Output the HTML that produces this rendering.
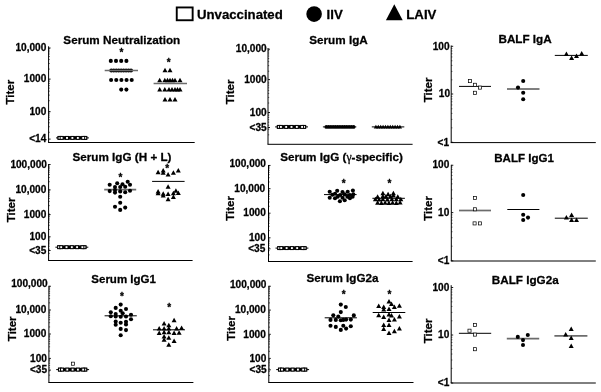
<!DOCTYPE html>
<html><head><meta charset="utf-8"><title>Figure</title>
<style>html,body{margin:0;padding:0;background:#fff}svg{display:block}</style>
</head><body>
<svg width="601" height="392" viewBox="0 0 601 392" font-family='"Liberation Sans", Arial, Helvetica, sans-serif' font-weight="bold" fill="#000"><style>text{stroke:#000;stroke-width:0.28px;stroke-linejoin:round}</style>
<rect width="601" height="392" fill="#fff"/>
<g>
<rect x="176.75" y="7.45" width="15.9" height="12.8" fill="#fff" stroke="#000" stroke-width="1.9"/>
<text x="197.00" y="18.60" font-size="13.2" text-anchor="start" >Unvaccinated</text>
<circle cx="314.1" cy="14.1" r="7.8" fill="#000"/>
<text x="326.60" y="18.90" font-size="13.2" text-anchor="start" >IIV</text>
<path d="M394.3 4.2L402.7 20.2L385.9 20.2Z" fill="#000"/>
<text x="406.30" y="18.90" font-size="13.2" text-anchor="start" >LAIV</text>
<line x1="48.60" y1="46.30" x2="48.60" y2="142.50" stroke="#000" stroke-width="1"/>
<line x1="48.10" y1="142.50" x2="194.70" y2="142.50" stroke="#000" stroke-width="1"/>
<line x1="48.60" y1="48.00" x2="50.60" y2="48.00" stroke="#000" stroke-width="0.9"/>
<text x="46.30" y="51.00" font-size="10.1" text-anchor="end" >10,000</text>
<line x1="48.60" y1="79.10" x2="50.60" y2="79.10" stroke="#000" stroke-width="0.9"/>
<text x="46.30" y="82.00" font-size="10.1" text-anchor="end" >1000</text>
<line x1="48.60" y1="111.70" x2="50.60" y2="111.70" stroke="#000" stroke-width="0.9"/>
<text x="46.30" y="115.00" font-size="10.1" text-anchor="end" >100</text>
<line x1="48.60" y1="139.10" x2="50.60" y2="139.10" stroke="#000" stroke-width="0.9"/>
<text x="46.30" y="142.00" font-size="10.1" text-anchor="end" >&lt;14</text>
<text x="121.80" y="43.60" font-size="11.7" text-anchor="middle" >Serum Neutralization</text>
<text transform="translate(13.80,92.20) rotate(-90)" font-size="11.5" text-anchor="middle">Titer</text>
<line x1="48.60" y1="69.09" x2="49.80" y2="69.09" stroke="#000" stroke-width="0.6"/>
<line x1="48.60" y1="63.52" x2="49.80" y2="63.52" stroke="#000" stroke-width="0.6"/>
<line x1="48.60" y1="59.57" x2="49.80" y2="59.57" stroke="#000" stroke-width="0.6"/>
<line x1="48.60" y1="56.51" x2="49.80" y2="56.51" stroke="#000" stroke-width="0.6"/>
<line x1="48.60" y1="54.01" x2="49.80" y2="54.01" stroke="#000" stroke-width="0.6"/>
<line x1="48.60" y1="51.89" x2="49.80" y2="51.89" stroke="#000" stroke-width="0.6"/>
<line x1="48.60" y1="50.06" x2="49.80" y2="50.06" stroke="#000" stroke-width="0.6"/>
<line x1="48.60" y1="48.45" x2="49.80" y2="48.45" stroke="#000" stroke-width="0.6"/>
<line x1="48.60" y1="100.69" x2="49.80" y2="100.69" stroke="#000" stroke-width="0.6"/>
<line x1="48.60" y1="95.12" x2="49.80" y2="95.12" stroke="#000" stroke-width="0.6"/>
<line x1="48.60" y1="91.17" x2="49.80" y2="91.17" stroke="#000" stroke-width="0.6"/>
<line x1="48.60" y1="88.11" x2="49.80" y2="88.11" stroke="#000" stroke-width="0.6"/>
<line x1="48.60" y1="85.61" x2="49.80" y2="85.61" stroke="#000" stroke-width="0.6"/>
<line x1="48.60" y1="83.49" x2="49.80" y2="83.49" stroke="#000" stroke-width="0.6"/>
<line x1="48.60" y1="81.66" x2="49.80" y2="81.66" stroke="#000" stroke-width="0.6"/>
<line x1="48.60" y1="80.05" x2="49.80" y2="80.05" stroke="#000" stroke-width="0.6"/>
<line x1="48.60" y1="132.29" x2="49.80" y2="132.29" stroke="#000" stroke-width="0.6"/>
<line x1="48.60" y1="126.72" x2="49.80" y2="126.72" stroke="#000" stroke-width="0.6"/>
<line x1="48.60" y1="122.77" x2="49.80" y2="122.77" stroke="#000" stroke-width="0.6"/>
<line x1="48.60" y1="119.71" x2="49.80" y2="119.71" stroke="#000" stroke-width="0.6"/>
<line x1="48.60" y1="117.21" x2="49.80" y2="117.21" stroke="#000" stroke-width="0.6"/>
<line x1="48.60" y1="115.09" x2="49.80" y2="115.09" stroke="#000" stroke-width="0.6"/>
<line x1="48.60" y1="113.26" x2="49.80" y2="113.26" stroke="#000" stroke-width="0.6"/>
<line x1="48.60" y1="111.65" x2="49.80" y2="111.65" stroke="#000" stroke-width="0.6"/>
<line x1="56.00" y1="137.90" x2="88.90" y2="137.90" stroke="#000" stroke-width="1"/>
<rect x="57.55" y="136.10" width="29.70" height="3.6" fill="#000"/>
<rect x="58.08" y="136.43" width="2.95" height="2.95" fill="#fff" stroke="#000" stroke-width="1.0"/>
<rect x="83.78" y="136.43" width="2.95" height="2.95" fill="#fff" stroke="#000" stroke-width="1.0"/>
<rect x="60.13" y="136.43" width="2.95" height="2.95" fill="#fff" stroke="#000" stroke-width="1.0"/>
<rect x="65.53" y="136.43" width="2.95" height="2.95" fill="#fff" stroke="#000" stroke-width="1.0"/>
<rect x="70.93" y="136.43" width="2.95" height="2.95" fill="#fff" stroke="#000" stroke-width="1.0"/>
<rect x="76.33" y="136.43" width="2.95" height="2.95" fill="#fff" stroke="#000" stroke-width="1.0"/>
<rect x="81.73" y="136.43" width="2.95" height="2.95" fill="#fff" stroke="#000" stroke-width="1.0"/>
<circle cx="110.80" cy="60.90" r="2.05" fill="#000"/>
<circle cx="116.00" cy="60.90" r="2.05" fill="#000"/>
<circle cx="121.20" cy="60.90" r="2.05" fill="#000"/>
<circle cx="126.40" cy="60.90" r="2.05" fill="#000"/>
<circle cx="111.30" cy="70.50" r="2.05" fill="#000"/>
<circle cx="113.76" cy="70.50" r="2.05" fill="#000"/>
<circle cx="116.22" cy="70.50" r="2.05" fill="#000"/>
<circle cx="118.69" cy="70.50" r="2.05" fill="#000"/>
<circle cx="121.15" cy="70.50" r="2.05" fill="#000"/>
<circle cx="123.61" cy="70.50" r="2.05" fill="#000"/>
<circle cx="126.08" cy="70.50" r="2.05" fill="#000"/>
<circle cx="128.54" cy="70.50" r="2.05" fill="#000"/>
<circle cx="131.00" cy="70.50" r="2.05" fill="#000"/>
<line x1="104.70" y1="70.50" x2="138.00" y2="70.50" stroke="#6c6c6c" stroke-width="1.7"/>
<circle cx="111.10" cy="80.00" r="2.05" fill="#000"/>
<circle cx="116.25" cy="80.00" r="2.05" fill="#000"/>
<circle cx="121.40" cy="80.00" r="2.05" fill="#000"/>
<circle cx="126.55" cy="80.00" r="2.05" fill="#000"/>
<circle cx="131.70" cy="80.00" r="2.05" fill="#000"/>
<circle cx="121.20" cy="89.60" r="2.05" fill="#000"/>
<circle cx="126.40" cy="89.60" r="2.05" fill="#000"/>
<text x="121.50" y="56.40" font-size="10" text-anchor="middle" >*</text>
<path d="M165.00 67.70L167.50 72.20L162.50 72.20Z" fill="#000"/>
<path d="M170.00 67.70L172.50 72.20L167.50 72.20Z" fill="#000"/>
<path d="M159.70 77.70L162.20 82.20L157.20 82.20Z" fill="#000"/>
<path d="M164.80 77.70L167.30 82.20L162.30 82.20Z" fill="#000"/>
<path d="M167.50 77.70L170.00 82.20L165.00 82.20Z" fill="#000"/>
<path d="M170.00 77.70L172.50 82.20L167.50 82.20Z" fill="#000"/>
<path d="M172.50 77.70L175.00 82.20L170.00 82.20Z" fill="#000"/>
<path d="M175.00 77.70L177.50 82.20L172.50 82.20Z" fill="#000"/>
<path d="M180.00 77.70L182.50 82.20L177.50 82.20Z" fill="#000"/>
<line x1="153.60" y1="83.50" x2="187.00" y2="83.50" stroke="#6c6c6c" stroke-width="1.7"/>
<path d="M159.70 87.10L162.20 91.60L157.20 91.60Z" fill="#000"/>
<path d="M164.80 87.10L167.30 91.60L162.30 91.60Z" fill="#000"/>
<path d="M169.00 87.10L171.50 91.60L166.50 91.60Z" fill="#000"/>
<path d="M172.00 87.10L174.50 91.60L169.50 91.60Z" fill="#000"/>
<path d="M175.00 87.10L177.50 91.60L172.50 91.60Z" fill="#000"/>
<path d="M177.50 87.10L180.00 91.60L175.00 91.60Z" fill="#000"/>
<path d="M180.00 87.10L182.50 91.60L177.50 91.60Z" fill="#000"/>
<path d="M165.00 96.90L167.50 101.40L162.50 101.40Z" fill="#000"/>
<path d="M170.00 96.90L172.50 101.40L167.50 101.40Z" fill="#000"/>
<path d="M175.00 96.90L177.50 101.40L172.50 101.40Z" fill="#000"/>
<text x="168.60" y="65.60" font-size="10" text-anchor="middle" >*</text>
<line x1="268.00" y1="48.00" x2="268.00" y2="144.30" stroke="#000" stroke-width="1"/>
<line x1="267.50" y1="144.30" x2="412.60" y2="144.30" stroke="#000" stroke-width="1"/>
<line x1="268.00" y1="49.20" x2="270.00" y2="49.20" stroke="#000" stroke-width="0.9"/>
<text x="266.70" y="52.00" font-size="10.1" text-anchor="end" >10,000</text>
<line x1="268.00" y1="79.60" x2="270.00" y2="79.60" stroke="#000" stroke-width="0.9"/>
<text x="266.70" y="83.00" font-size="10.1" text-anchor="end" >1000</text>
<line x1="268.00" y1="112.50" x2="270.00" y2="112.50" stroke="#000" stroke-width="0.9"/>
<text x="266.70" y="116.00" font-size="10.1" text-anchor="end" >100</text>
<line x1="268.00" y1="127.50" x2="270.00" y2="127.50" stroke="#000" stroke-width="0.9"/>
<text x="266.70" y="131.00" font-size="10.1" text-anchor="end" >&lt;35</text>
<text x="338.50" y="43.70" font-size="11.7" text-anchor="middle" >Serum IgA</text>
<text transform="translate(233.80,92.00) rotate(-90)" font-size="11.5" text-anchor="middle">Titer</text>
<line x1="268.00" y1="71.23" x2="269.20" y2="71.23" stroke="#000" stroke-width="0.6"/>
<line x1="268.00" y1="65.63" x2="269.20" y2="65.63" stroke="#000" stroke-width="0.6"/>
<line x1="268.00" y1="61.65" x2="269.20" y2="61.65" stroke="#000" stroke-width="0.6"/>
<line x1="268.00" y1="58.57" x2="269.20" y2="58.57" stroke="#000" stroke-width="0.6"/>
<line x1="268.00" y1="56.05" x2="269.20" y2="56.05" stroke="#000" stroke-width="0.6"/>
<line x1="268.00" y1="53.93" x2="269.20" y2="53.93" stroke="#000" stroke-width="0.6"/>
<line x1="268.00" y1="52.08" x2="269.20" y2="52.08" stroke="#000" stroke-width="0.6"/>
<line x1="268.00" y1="50.46" x2="269.20" y2="50.46" stroke="#000" stroke-width="0.6"/>
<line x1="268.00" y1="103.03" x2="269.20" y2="103.03" stroke="#000" stroke-width="0.6"/>
<line x1="268.00" y1="97.43" x2="269.20" y2="97.43" stroke="#000" stroke-width="0.6"/>
<line x1="268.00" y1="93.45" x2="269.20" y2="93.45" stroke="#000" stroke-width="0.6"/>
<line x1="268.00" y1="90.37" x2="269.20" y2="90.37" stroke="#000" stroke-width="0.6"/>
<line x1="268.00" y1="87.85" x2="269.20" y2="87.85" stroke="#000" stroke-width="0.6"/>
<line x1="268.00" y1="85.73" x2="269.20" y2="85.73" stroke="#000" stroke-width="0.6"/>
<line x1="268.00" y1="83.88" x2="269.20" y2="83.88" stroke="#000" stroke-width="0.6"/>
<line x1="268.00" y1="82.26" x2="269.20" y2="82.26" stroke="#000" stroke-width="0.6"/>
<line x1="268.00" y1="134.83" x2="269.20" y2="134.83" stroke="#000" stroke-width="0.6"/>
<line x1="268.00" y1="129.23" x2="269.20" y2="129.23" stroke="#000" stroke-width="0.6"/>
<line x1="268.00" y1="125.25" x2="269.20" y2="125.25" stroke="#000" stroke-width="0.6"/>
<line x1="268.00" y1="122.17" x2="269.20" y2="122.17" stroke="#000" stroke-width="0.6"/>
<line x1="268.00" y1="119.65" x2="269.20" y2="119.65" stroke="#000" stroke-width="0.6"/>
<line x1="268.00" y1="117.53" x2="269.20" y2="117.53" stroke="#000" stroke-width="0.6"/>
<line x1="268.00" y1="115.68" x2="269.20" y2="115.68" stroke="#000" stroke-width="0.6"/>
<line x1="268.00" y1="114.06" x2="269.20" y2="114.06" stroke="#000" stroke-width="0.6"/>
<line x1="275.10" y1="126.90" x2="308.00" y2="126.90" stroke="#000" stroke-width="1"/>
<rect x="276.85" y="125.10" width="29.30" height="3.6" fill="#000"/>
<rect x="277.38" y="125.43" width="2.95" height="2.95" fill="#fff" stroke="#000" stroke-width="1.0"/>
<rect x="302.67" y="125.43" width="2.95" height="2.95" fill="#fff" stroke="#000" stroke-width="1.0"/>
<rect x="279.42" y="125.43" width="2.95" height="2.95" fill="#fff" stroke="#000" stroke-width="1.0"/>
<rect x="284.72" y="125.43" width="2.95" height="2.95" fill="#fff" stroke="#000" stroke-width="1.0"/>
<rect x="290.02" y="125.43" width="2.95" height="2.95" fill="#fff" stroke="#000" stroke-width="1.0"/>
<rect x="295.32" y="125.43" width="2.95" height="2.95" fill="#fff" stroke="#000" stroke-width="1.0"/>
<rect x="300.62" y="125.43" width="2.95" height="2.95" fill="#fff" stroke="#000" stroke-width="1.0"/>
<line x1="322.90" y1="126.90" x2="356.30" y2="126.90" stroke="#000" stroke-width="1"/>
<circle cx="326.30" cy="126.90" r="1.85" fill="#000"/>
<circle cx="328.57" cy="126.90" r="1.85" fill="#000"/>
<circle cx="330.85" cy="126.90" r="1.85" fill="#000"/>
<circle cx="333.12" cy="126.90" r="1.85" fill="#000"/>
<circle cx="335.40" cy="126.90" r="1.85" fill="#000"/>
<circle cx="337.68" cy="126.90" r="1.85" fill="#000"/>
<circle cx="339.95" cy="126.90" r="1.85" fill="#000"/>
<circle cx="342.23" cy="126.90" r="1.85" fill="#000"/>
<circle cx="344.50" cy="126.90" r="1.85" fill="#000"/>
<circle cx="346.78" cy="126.90" r="1.85" fill="#000"/>
<circle cx="349.05" cy="126.90" r="1.85" fill="#000"/>
<circle cx="351.33" cy="126.90" r="1.85" fill="#000"/>
<circle cx="353.60" cy="126.90" r="1.85" fill="#000"/>
<line x1="371.80" y1="126.90" x2="404.30" y2="126.90" stroke="#000" stroke-width="1"/>
<path d="M375.90 124.75L378.05 128.62L373.75 128.62Z" fill="#000"/>
<path d="M378.30 124.75L380.45 128.62L376.15 128.62Z" fill="#000"/>
<path d="M380.70 124.75L382.85 128.62L378.55 128.62Z" fill="#000"/>
<path d="M383.10 124.75L385.25 128.62L380.95 128.62Z" fill="#000"/>
<path d="M385.50 124.75L387.65 128.62L383.35 128.62Z" fill="#000"/>
<path d="M387.90 124.75L390.05 128.62L385.75 128.62Z" fill="#000"/>
<path d="M390.30 124.75L392.45 128.62L388.15 128.62Z" fill="#000"/>
<path d="M392.70 124.75L394.85 128.62L390.55 128.62Z" fill="#000"/>
<path d="M395.10 124.75L397.25 128.62L392.95 128.62Z" fill="#000"/>
<path d="M397.50 124.75L399.65 128.62L395.35 128.62Z" fill="#000"/>
<path d="M399.90 124.75L402.05 128.62L397.75 128.62Z" fill="#000"/>
<line x1="451.20" y1="45.50" x2="451.20" y2="142.60" stroke="#000" stroke-width="1"/>
<line x1="450.70" y1="142.60" x2="595.80" y2="142.60" stroke="#000" stroke-width="1"/>
<line x1="451.20" y1="46.30" x2="453.20" y2="46.30" stroke="#000" stroke-width="0.9"/>
<text x="449.60" y="50.00" font-size="10.1" text-anchor="end" >100</text>
<line x1="451.20" y1="94.00" x2="453.20" y2="94.00" stroke="#000" stroke-width="0.9"/>
<text x="450.10" y="97.00" font-size="10.1" text-anchor="end" >10</text>
<line x1="451.20" y1="142.30" x2="453.20" y2="142.30" stroke="#000" stroke-width="0.9"/>
<text x="449.00" y="146.00" font-size="10.1" text-anchor="end" >&lt;1</text>
<text x="525.10" y="42.60" font-size="11.7" text-anchor="middle" >BALF IgA</text>
<text transform="translate(432.00,90.00) rotate(-90)" font-size="11.5" text-anchor="middle">Titer</text>
<line x1="451.20" y1="79.85" x2="452.40" y2="79.85" stroke="#000" stroke-width="0.6"/>
<line x1="451.20" y1="71.40" x2="452.40" y2="71.40" stroke="#000" stroke-width="0.6"/>
<line x1="451.20" y1="65.40" x2="452.40" y2="65.40" stroke="#000" stroke-width="0.6"/>
<line x1="451.20" y1="60.75" x2="452.40" y2="60.75" stroke="#000" stroke-width="0.6"/>
<line x1="451.20" y1="56.95" x2="452.40" y2="56.95" stroke="#000" stroke-width="0.6"/>
<line x1="451.20" y1="53.74" x2="452.40" y2="53.74" stroke="#000" stroke-width="0.6"/>
<line x1="451.20" y1="50.95" x2="452.40" y2="50.95" stroke="#000" stroke-width="0.6"/>
<line x1="451.20" y1="48.50" x2="452.40" y2="48.50" stroke="#000" stroke-width="0.6"/>
<line x1="451.20" y1="127.85" x2="452.40" y2="127.85" stroke="#000" stroke-width="0.6"/>
<line x1="451.20" y1="119.40" x2="452.40" y2="119.40" stroke="#000" stroke-width="0.6"/>
<line x1="451.20" y1="113.40" x2="452.40" y2="113.40" stroke="#000" stroke-width="0.6"/>
<line x1="451.20" y1="108.75" x2="452.40" y2="108.75" stroke="#000" stroke-width="0.6"/>
<line x1="451.20" y1="104.95" x2="452.40" y2="104.95" stroke="#000" stroke-width="0.6"/>
<line x1="451.20" y1="101.74" x2="452.40" y2="101.74" stroke="#000" stroke-width="0.6"/>
<line x1="451.20" y1="98.95" x2="452.40" y2="98.95" stroke="#000" stroke-width="0.6"/>
<line x1="451.20" y1="96.50" x2="452.40" y2="96.50" stroke="#000" stroke-width="0.6"/>
<line x1="459.00" y1="86.40" x2="491.00" y2="86.40" stroke="#000" stroke-width="1"/>
<rect x="468.35" y="79.55" width="3.1" height="3.1" fill="#fff" stroke="#000" stroke-width="0.72"/>
<rect x="473.45" y="83.25" width="3.1" height="3.1" fill="#fff" stroke="#000" stroke-width="0.72"/>
<rect x="478.45" y="86.05" width="3.1" height="3.1" fill="#fff" stroke="#000" stroke-width="0.72"/>
<rect x="473.45" y="91.25" width="3.1" height="3.1" fill="#fff" stroke="#000" stroke-width="0.72"/>
<line x1="507.00" y1="89.00" x2="539.50" y2="89.00" stroke="#000" stroke-width="1"/>
<circle cx="523.20" cy="81.00" r="2.05" fill="#000"/>
<circle cx="518.00" cy="87.60" r="2.05" fill="#000"/>
<circle cx="523.20" cy="92.80" r="2.05" fill="#000"/>
<circle cx="523.20" cy="99.20" r="2.05" fill="#000"/>
<line x1="554.80" y1="55.40" x2="587.80" y2="55.40" stroke="#000" stroke-width="1"/>
<path d="M566.40 51.40L568.90 55.90L563.90 55.90Z" fill="#000"/>
<path d="M571.60 55.40L574.10 59.90L569.10 59.90Z" fill="#000"/>
<path d="M576.50 53.50L579.00 58.00L574.00 58.00Z" fill="#000"/>
<path d="M581.70 51.10L584.20 55.60L579.20 55.60Z" fill="#000"/>
<line x1="48.60" y1="164.00" x2="48.60" y2="260.50" stroke="#000" stroke-width="1"/>
<line x1="48.10" y1="260.50" x2="192.60" y2="260.50" stroke="#000" stroke-width="1"/>
<line x1="48.60" y1="164.50" x2="50.60" y2="164.50" stroke="#000" stroke-width="0.9"/>
<text x="46.90" y="168.00" font-size="10.1" text-anchor="end" >100,000</text>
<line x1="48.60" y1="189.90" x2="50.60" y2="189.90" stroke="#000" stroke-width="0.9"/>
<text x="46.30" y="193.00" font-size="10.1" text-anchor="end" >10,000</text>
<line x1="48.60" y1="214.60" x2="50.60" y2="214.60" stroke="#000" stroke-width="0.9"/>
<text x="46.30" y="218.00" font-size="10.1" text-anchor="end" >1000</text>
<line x1="48.60" y1="236.80" x2="50.60" y2="236.80" stroke="#000" stroke-width="0.9"/>
<text x="46.30" y="240.00" font-size="10.1" text-anchor="end" >100</text>
<line x1="48.60" y1="250.50" x2="50.60" y2="250.50" stroke="#000" stroke-width="0.9"/>
<text x="46.30" y="254.00" font-size="10.1" text-anchor="end" >&lt;35</text>
<text x="122.00" y="160.60" font-size="11.7" text-anchor="middle" >Serum IgG (H + L)</text>
<text transform="translate(15.00,210.00) rotate(-90)" font-size="11.5" text-anchor="middle">Titer</text>
<line x1="48.60" y1="181.71" x2="49.80" y2="181.71" stroke="#000" stroke-width="0.6"/>
<line x1="48.60" y1="177.50" x2="49.80" y2="177.50" stroke="#000" stroke-width="0.6"/>
<line x1="48.60" y1="174.51" x2="49.80" y2="174.51" stroke="#000" stroke-width="0.6"/>
<line x1="48.60" y1="172.19" x2="49.80" y2="172.19" stroke="#000" stroke-width="0.6"/>
<line x1="48.60" y1="170.30" x2="49.80" y2="170.30" stroke="#000" stroke-width="0.6"/>
<line x1="48.60" y1="168.70" x2="49.80" y2="168.70" stroke="#000" stroke-width="0.6"/>
<line x1="48.60" y1="167.32" x2="49.80" y2="167.32" stroke="#000" stroke-width="0.6"/>
<line x1="48.60" y1="166.09" x2="49.80" y2="166.09" stroke="#000" stroke-width="0.6"/>
<line x1="48.60" y1="205.61" x2="49.80" y2="205.61" stroke="#000" stroke-width="0.6"/>
<line x1="48.60" y1="201.40" x2="49.80" y2="201.40" stroke="#000" stroke-width="0.6"/>
<line x1="48.60" y1="198.41" x2="49.80" y2="198.41" stroke="#000" stroke-width="0.6"/>
<line x1="48.60" y1="196.09" x2="49.80" y2="196.09" stroke="#000" stroke-width="0.6"/>
<line x1="48.60" y1="194.20" x2="49.80" y2="194.20" stroke="#000" stroke-width="0.6"/>
<line x1="48.60" y1="192.60" x2="49.80" y2="192.60" stroke="#000" stroke-width="0.6"/>
<line x1="48.60" y1="191.22" x2="49.80" y2="191.22" stroke="#000" stroke-width="0.6"/>
<line x1="48.60" y1="189.99" x2="49.80" y2="189.99" stroke="#000" stroke-width="0.6"/>
<line x1="48.60" y1="229.51" x2="49.80" y2="229.51" stroke="#000" stroke-width="0.6"/>
<line x1="48.60" y1="225.30" x2="49.80" y2="225.30" stroke="#000" stroke-width="0.6"/>
<line x1="48.60" y1="222.31" x2="49.80" y2="222.31" stroke="#000" stroke-width="0.6"/>
<line x1="48.60" y1="219.99" x2="49.80" y2="219.99" stroke="#000" stroke-width="0.6"/>
<line x1="48.60" y1="218.10" x2="49.80" y2="218.10" stroke="#000" stroke-width="0.6"/>
<line x1="48.60" y1="216.50" x2="49.80" y2="216.50" stroke="#000" stroke-width="0.6"/>
<line x1="48.60" y1="215.12" x2="49.80" y2="215.12" stroke="#000" stroke-width="0.6"/>
<line x1="48.60" y1="213.89" x2="49.80" y2="213.89" stroke="#000" stroke-width="0.6"/>
<line x1="48.60" y1="253.41" x2="49.80" y2="253.41" stroke="#000" stroke-width="0.6"/>
<line x1="48.60" y1="249.20" x2="49.80" y2="249.20" stroke="#000" stroke-width="0.6"/>
<line x1="48.60" y1="246.21" x2="49.80" y2="246.21" stroke="#000" stroke-width="0.6"/>
<line x1="48.60" y1="243.89" x2="49.80" y2="243.89" stroke="#000" stroke-width="0.6"/>
<line x1="48.60" y1="242.00" x2="49.80" y2="242.00" stroke="#000" stroke-width="0.6"/>
<line x1="48.60" y1="240.40" x2="49.80" y2="240.40" stroke="#000" stroke-width="0.6"/>
<line x1="48.60" y1="239.02" x2="49.80" y2="239.02" stroke="#000" stroke-width="0.6"/>
<line x1="48.60" y1="237.79" x2="49.80" y2="237.79" stroke="#000" stroke-width="0.6"/>
<line x1="55.40" y1="247.20" x2="88.30" y2="247.20" stroke="#000" stroke-width="1"/>
<rect x="57.15" y="245.40" width="29.30" height="3.6" fill="#000"/>
<rect x="57.67" y="245.72" width="2.95" height="2.95" fill="#fff" stroke="#000" stroke-width="1.0"/>
<rect x="82.97" y="245.72" width="2.95" height="2.95" fill="#fff" stroke="#000" stroke-width="1.0"/>
<rect x="59.72" y="245.72" width="2.95" height="2.95" fill="#fff" stroke="#000" stroke-width="1.0"/>
<rect x="65.03" y="245.72" width="2.95" height="2.95" fill="#fff" stroke="#000" stroke-width="1.0"/>
<rect x="70.33" y="245.72" width="2.95" height="2.95" fill="#fff" stroke="#000" stroke-width="1.0"/>
<rect x="75.62" y="245.72" width="2.95" height="2.95" fill="#fff" stroke="#000" stroke-width="1.0"/>
<rect x="80.92" y="245.72" width="2.95" height="2.95" fill="#fff" stroke="#000" stroke-width="1.0"/>
<line x1="104.20" y1="189.60" x2="136.20" y2="189.60" stroke="#6c6c6c" stroke-width="1.7"/>
<circle cx="109.70" cy="184.70" r="2.05" fill="#000"/>
<circle cx="117.20" cy="183.20" r="2.05" fill="#000"/>
<circle cx="122.50" cy="184.30" r="2.05" fill="#000"/>
<circle cx="127.70" cy="181.70" r="2.05" fill="#000"/>
<circle cx="130.00" cy="184.70" r="2.05" fill="#000"/>
<circle cx="115.00" cy="187.00" r="2.05" fill="#000"/>
<circle cx="120.20" cy="187.00" r="2.05" fill="#000"/>
<circle cx="125.20" cy="186.70" r="2.05" fill="#000"/>
<circle cx="109.70" cy="191.10" r="2.05" fill="#000"/>
<circle cx="115.00" cy="190.00" r="2.05" fill="#000"/>
<circle cx="115.00" cy="192.60" r="2.05" fill="#000"/>
<circle cx="120.20" cy="191.40" r="2.05" fill="#000"/>
<circle cx="125.20" cy="192.20" r="2.05" fill="#000"/>
<circle cx="130.00" cy="190.70" r="2.05" fill="#000"/>
<circle cx="120.20" cy="196.70" r="2.05" fill="#000"/>
<circle cx="120.20" cy="202.70" r="2.05" fill="#000"/>
<circle cx="115.00" cy="206.70" r="2.05" fill="#000"/>
<circle cx="125.20" cy="207.60" r="2.05" fill="#000"/>
<circle cx="120.20" cy="209.90" r="2.05" fill="#000"/>
<text x="120.40" y="181.10" font-size="10" text-anchor="middle" >*</text>
<line x1="152.10" y1="181.40" x2="184.60" y2="181.40" stroke="#000" stroke-width="1"/>
<path d="M158.10 169.80L160.60 174.30L155.60 174.30Z" fill="#000"/>
<path d="M163.20 168.00L165.70 172.50L160.70 172.50Z" fill="#000"/>
<path d="M163.20 170.20L165.70 174.70L160.70 174.70Z" fill="#000"/>
<path d="M168.10 172.00L170.60 176.50L165.60 176.50Z" fill="#000"/>
<path d="M173.40 170.20L175.90 174.70L170.90 174.70Z" fill="#000"/>
<path d="M178.30 168.00L180.80 172.50L175.80 172.50Z" fill="#000"/>
<path d="M168.10 184.20L170.60 188.70L165.60 188.70Z" fill="#000"/>
<path d="M158.10 188.90L160.60 193.40L155.60 193.40Z" fill="#000"/>
<path d="M158.10 190.70L160.60 195.20L155.60 195.20Z" fill="#000"/>
<path d="M163.20 191.20L165.70 195.70L160.70 195.70Z" fill="#000"/>
<path d="M163.20 193.10L165.70 197.60L160.70 197.60Z" fill="#000"/>
<path d="M168.10 191.60L170.60 196.10L165.60 196.10Z" fill="#000"/>
<path d="M173.40 190.70L175.90 195.20L170.90 195.20Z" fill="#000"/>
<path d="M175.90 188.20L178.40 192.70L173.40 192.70Z" fill="#000"/>
<path d="M178.30 190.50L180.80 195.00L175.80 195.00Z" fill="#000"/>
<path d="M168.10 196.70L170.60 201.20L165.60 201.20Z" fill="#000"/>
<path d="M173.40 194.60L175.90 199.10L170.90 199.10Z" fill="#000"/>
<text x="167.30" y="171.60" font-size="10" text-anchor="middle" >*</text>
<line x1="268.50" y1="165.00" x2="268.50" y2="261.50" stroke="#000" stroke-width="1"/>
<line x1="268.00" y1="261.50" x2="412.60" y2="261.50" stroke="#000" stroke-width="1"/>
<line x1="268.50" y1="165.45" x2="270.50" y2="165.45" stroke="#000" stroke-width="0.9"/>
<text x="266.00" y="167.00" font-size="10.1" text-anchor="end" >100,000</text>
<line x1="268.50" y1="188.70" x2="270.50" y2="188.70" stroke="#000" stroke-width="0.9"/>
<text x="265.20" y="192.00" font-size="10.1" text-anchor="end" >10,000</text>
<line x1="268.50" y1="213.20" x2="270.50" y2="213.20" stroke="#000" stroke-width="0.9"/>
<text x="265.80" y="216.00" font-size="10.1" text-anchor="end" >1000</text>
<line x1="268.50" y1="237.80" x2="270.50" y2="237.80" stroke="#000" stroke-width="0.9"/>
<text x="265.80" y="241.00" font-size="10.1" text-anchor="end" >100</text>
<line x1="268.50" y1="248.80" x2="270.50" y2="248.80" stroke="#000" stroke-width="0.9"/>
<text x="265.30" y="252.00" font-size="10.1" text-anchor="end" >&lt;35</text>
<text x="341.50" y="161.00" font-size="11.7" text-anchor="middle" >Serum IgG (<tspan font-family='Liberation Serif, serif' font-weight='normal'>γ</tspan>-specific)</text>
<text transform="translate(234.30,208.50) rotate(-90)" font-size="11.5" text-anchor="middle">Titer</text>
<line x1="268.50" y1="181.98" x2="269.70" y2="181.98" stroke="#000" stroke-width="0.6"/>
<line x1="268.50" y1="177.71" x2="269.70" y2="177.71" stroke="#000" stroke-width="0.6"/>
<line x1="268.50" y1="174.67" x2="269.70" y2="174.67" stroke="#000" stroke-width="0.6"/>
<line x1="268.50" y1="172.32" x2="269.70" y2="172.32" stroke="#000" stroke-width="0.6"/>
<line x1="268.50" y1="170.39" x2="269.70" y2="170.39" stroke="#000" stroke-width="0.6"/>
<line x1="268.50" y1="168.76" x2="269.70" y2="168.76" stroke="#000" stroke-width="0.6"/>
<line x1="268.50" y1="167.35" x2="269.70" y2="167.35" stroke="#000" stroke-width="0.6"/>
<line x1="268.50" y1="166.11" x2="269.70" y2="166.11" stroke="#000" stroke-width="0.6"/>
<line x1="268.50" y1="206.28" x2="269.70" y2="206.28" stroke="#000" stroke-width="0.6"/>
<line x1="268.50" y1="202.01" x2="269.70" y2="202.01" stroke="#000" stroke-width="0.6"/>
<line x1="268.50" y1="198.97" x2="269.70" y2="198.97" stroke="#000" stroke-width="0.6"/>
<line x1="268.50" y1="196.62" x2="269.70" y2="196.62" stroke="#000" stroke-width="0.6"/>
<line x1="268.50" y1="194.69" x2="269.70" y2="194.69" stroke="#000" stroke-width="0.6"/>
<line x1="268.50" y1="193.06" x2="269.70" y2="193.06" stroke="#000" stroke-width="0.6"/>
<line x1="268.50" y1="191.65" x2="269.70" y2="191.65" stroke="#000" stroke-width="0.6"/>
<line x1="268.50" y1="190.41" x2="269.70" y2="190.41" stroke="#000" stroke-width="0.6"/>
<line x1="268.50" y1="230.58" x2="269.70" y2="230.58" stroke="#000" stroke-width="0.6"/>
<line x1="268.50" y1="226.31" x2="269.70" y2="226.31" stroke="#000" stroke-width="0.6"/>
<line x1="268.50" y1="223.27" x2="269.70" y2="223.27" stroke="#000" stroke-width="0.6"/>
<line x1="268.50" y1="220.92" x2="269.70" y2="220.92" stroke="#000" stroke-width="0.6"/>
<line x1="268.50" y1="218.99" x2="269.70" y2="218.99" stroke="#000" stroke-width="0.6"/>
<line x1="268.50" y1="217.36" x2="269.70" y2="217.36" stroke="#000" stroke-width="0.6"/>
<line x1="268.50" y1="215.95" x2="269.70" y2="215.95" stroke="#000" stroke-width="0.6"/>
<line x1="268.50" y1="214.71" x2="269.70" y2="214.71" stroke="#000" stroke-width="0.6"/>
<line x1="268.50" y1="254.88" x2="269.70" y2="254.88" stroke="#000" stroke-width="0.6"/>
<line x1="268.50" y1="250.61" x2="269.70" y2="250.61" stroke="#000" stroke-width="0.6"/>
<line x1="268.50" y1="247.57" x2="269.70" y2="247.57" stroke="#000" stroke-width="0.6"/>
<line x1="268.50" y1="245.22" x2="269.70" y2="245.22" stroke="#000" stroke-width="0.6"/>
<line x1="268.50" y1="243.29" x2="269.70" y2="243.29" stroke="#000" stroke-width="0.6"/>
<line x1="268.50" y1="241.66" x2="269.70" y2="241.66" stroke="#000" stroke-width="0.6"/>
<line x1="268.50" y1="240.25" x2="269.70" y2="240.25" stroke="#000" stroke-width="0.6"/>
<line x1="268.50" y1="239.01" x2="269.70" y2="239.01" stroke="#000" stroke-width="0.6"/>
<line x1="275.50" y1="248.10" x2="308.40" y2="248.10" stroke="#000" stroke-width="1"/>
<rect x="277.25" y="246.30" width="29.30" height="3.6" fill="#000"/>
<rect x="277.77" y="246.62" width="2.95" height="2.95" fill="#fff" stroke="#000" stroke-width="1.0"/>
<rect x="303.07" y="246.62" width="2.95" height="2.95" fill="#fff" stroke="#000" stroke-width="1.0"/>
<rect x="279.82" y="246.62" width="2.95" height="2.95" fill="#fff" stroke="#000" stroke-width="1.0"/>
<rect x="285.12" y="246.62" width="2.95" height="2.95" fill="#fff" stroke="#000" stroke-width="1.0"/>
<rect x="290.42" y="246.62" width="2.95" height="2.95" fill="#fff" stroke="#000" stroke-width="1.0"/>
<rect x="295.72" y="246.62" width="2.95" height="2.95" fill="#fff" stroke="#000" stroke-width="1.0"/>
<rect x="301.02" y="246.62" width="2.95" height="2.95" fill="#fff" stroke="#000" stroke-width="1.0"/>
<line x1="324.00" y1="194.60" x2="356.60" y2="194.60" stroke="#000" stroke-width="1"/>
<circle cx="329.70" cy="191.70" r="2.05" fill="#000"/>
<circle cx="337.20" cy="190.80" r="2.05" fill="#000"/>
<circle cx="342.50" cy="192.00" r="2.05" fill="#000"/>
<circle cx="347.70" cy="191.70" r="2.05" fill="#000"/>
<circle cx="352.90" cy="190.50" r="2.05" fill="#000"/>
<circle cx="332.30" cy="194.70" r="2.05" fill="#000"/>
<circle cx="335.00" cy="193.80" r="2.05" fill="#000"/>
<circle cx="340.20" cy="195.00" r="2.05" fill="#000"/>
<circle cx="344.70" cy="194.40" r="2.05" fill="#000"/>
<circle cx="349.90" cy="195.00" r="2.05" fill="#000"/>
<circle cx="353.30" cy="194.30" r="2.05" fill="#000"/>
<circle cx="329.70" cy="197.70" r="2.05" fill="#000"/>
<circle cx="335.00" cy="198.30" r="2.05" fill="#000"/>
<circle cx="337.70" cy="196.80" r="2.05" fill="#000"/>
<circle cx="342.50" cy="197.70" r="2.05" fill="#000"/>
<circle cx="347.40" cy="196.80" r="2.05" fill="#000"/>
<circle cx="349.90" cy="198.30" r="2.05" fill="#000"/>
<circle cx="352.60" cy="196.80" r="2.05" fill="#000"/>
<circle cx="339.90" cy="201.30" r="2.05" fill="#000"/>
<circle cx="344.70" cy="200.20" r="2.05" fill="#000"/>
<text x="343.60" y="186.90" font-size="10" text-anchor="middle" >*</text>
<line x1="372.40" y1="198.30" x2="404.90" y2="198.30" stroke="#000" stroke-width="1"/>
<path d="M382.90 190.70L385.40 195.20L380.40 195.20Z" fill="#000"/>
<path d="M388.10 191.70L390.60 196.20L385.60 196.20Z" fill="#000"/>
<path d="M393.40 190.70L395.90 195.20L390.90 195.20Z" fill="#000"/>
<path d="M377.60 194.30L380.10 198.80L375.10 198.80Z" fill="#000"/>
<path d="M382.90 193.70L385.40 198.20L380.40 198.20Z" fill="#000"/>
<path d="M385.90 194.00L388.40 198.50L383.40 198.50Z" fill="#000"/>
<path d="M390.40 193.70L392.90 198.20L387.90 198.20Z" fill="#000"/>
<path d="M393.40 193.10L395.90 197.60L390.90 197.60Z" fill="#000"/>
<path d="M397.80 194.30L400.30 198.80L395.30 198.80Z" fill="#000"/>
<path d="M375.40 196.70L377.90 201.20L372.90 201.20Z" fill="#000"/>
<path d="M379.10 197.00L381.60 201.50L376.60 201.50Z" fill="#000"/>
<path d="M382.90 196.70L385.40 201.20L380.40 201.20Z" fill="#000"/>
<path d="M387.40 197.00L389.90 201.50L384.90 201.50Z" fill="#000"/>
<path d="M391.90 196.70L394.40 201.20L389.40 201.20Z" fill="#000"/>
<path d="M396.30 196.70L398.80 201.20L393.80 201.20Z" fill="#000"/>
<path d="M400.80 196.70L403.30 201.20L398.30 201.20Z" fill="#000"/>
<path d="M377.60 200.30L380.10 204.80L375.10 204.80Z" fill="#000"/>
<path d="M381.40 200.60L383.90 205.10L378.90 205.10Z" fill="#000"/>
<path d="M385.10 200.30L387.60 204.80L382.60 204.80Z" fill="#000"/>
<path d="M388.90 200.60L391.40 205.10L386.40 205.10Z" fill="#000"/>
<path d="M392.60 200.30L395.10 204.80L390.10 204.80Z" fill="#000"/>
<path d="M396.30 200.60L398.80 205.10L393.80 205.10Z" fill="#000"/>
<path d="M400.10 200.00L402.60 204.50L397.60 204.50Z" fill="#000"/>
<text x="389.50" y="186.90" font-size="10" text-anchor="middle" >*</text>
<line x1="451.30" y1="164.80" x2="451.30" y2="261.00" stroke="#000" stroke-width="1"/>
<line x1="450.80" y1="261.00" x2="595.80" y2="261.00" stroke="#000" stroke-width="1"/>
<line x1="451.30" y1="165.25" x2="453.30" y2="165.25" stroke="#000" stroke-width="0.9"/>
<text x="449.30" y="168.00" font-size="10.1" text-anchor="end" >100</text>
<line x1="451.30" y1="212.60" x2="453.30" y2="212.60" stroke="#000" stroke-width="0.9"/>
<text x="449.30" y="216.00" font-size="10.1" text-anchor="end" >10</text>
<line x1="451.30" y1="260.80" x2="453.30" y2="260.80" stroke="#000" stroke-width="0.9"/>
<text x="449.30" y="264.00" font-size="10.1" text-anchor="end" >&lt;1</text>
<text x="524.10" y="161.60" font-size="11.55" text-anchor="middle" >BALF IgG1</text>
<text transform="translate(432.30,208.50) rotate(-90)" font-size="11.5" text-anchor="middle">Titer</text>
<line x1="451.30" y1="198.28" x2="452.50" y2="198.28" stroke="#000" stroke-width="0.6"/>
<line x1="451.30" y1="189.85" x2="452.50" y2="189.85" stroke="#000" stroke-width="0.6"/>
<line x1="451.30" y1="183.86" x2="452.50" y2="183.86" stroke="#000" stroke-width="0.6"/>
<line x1="451.30" y1="179.22" x2="452.50" y2="179.22" stroke="#000" stroke-width="0.6"/>
<line x1="451.30" y1="175.43" x2="452.50" y2="175.43" stroke="#000" stroke-width="0.6"/>
<line x1="451.30" y1="172.22" x2="452.50" y2="172.22" stroke="#000" stroke-width="0.6"/>
<line x1="451.30" y1="169.44" x2="452.50" y2="169.44" stroke="#000" stroke-width="0.6"/>
<line x1="451.30" y1="166.99" x2="452.50" y2="166.99" stroke="#000" stroke-width="0.6"/>
<line x1="451.30" y1="246.18" x2="452.50" y2="246.18" stroke="#000" stroke-width="0.6"/>
<line x1="451.30" y1="237.75" x2="452.50" y2="237.75" stroke="#000" stroke-width="0.6"/>
<line x1="451.30" y1="231.76" x2="452.50" y2="231.76" stroke="#000" stroke-width="0.6"/>
<line x1="451.30" y1="227.12" x2="452.50" y2="227.12" stroke="#000" stroke-width="0.6"/>
<line x1="451.30" y1="223.33" x2="452.50" y2="223.33" stroke="#000" stroke-width="0.6"/>
<line x1="451.30" y1="220.12" x2="452.50" y2="220.12" stroke="#000" stroke-width="0.6"/>
<line x1="451.30" y1="217.34" x2="452.50" y2="217.34" stroke="#000" stroke-width="0.6"/>
<line x1="451.30" y1="214.89" x2="452.50" y2="214.89" stroke="#000" stroke-width="0.6"/>
<line x1="459.00" y1="210.50" x2="491.00" y2="210.50" stroke="#6c6c6c" stroke-width="1.7"/>
<rect x="473.45" y="196.45" width="3.1" height="3.1" fill="#fff" stroke="#000" stroke-width="0.72"/>
<rect x="473.45" y="207.75" width="3.1" height="3.1" fill="#fff" stroke="#000" stroke-width="0.72"/>
<rect x="473.05" y="221.85" width="3.1" height="3.1" fill="#fff" stroke="#000" stroke-width="0.72"/>
<rect x="478.45" y="221.85" width="3.1" height="3.1" fill="#fff" stroke="#000" stroke-width="0.72"/>
<line x1="507.30" y1="209.50" x2="539.40" y2="209.50" stroke="#000" stroke-width="1"/>
<circle cx="523.20" cy="195.00" r="2.05" fill="#000"/>
<circle cx="523.20" cy="214.80" r="2.05" fill="#000"/>
<circle cx="528.00" cy="217.60" r="2.05" fill="#000"/>
<circle cx="523.20" cy="220.00" r="2.05" fill="#000"/>
<line x1="554.80" y1="218.20" x2="587.80" y2="218.20" stroke="#000" stroke-width="1"/>
<path d="M566.40 215.10L568.90 219.60L563.90 219.60Z" fill="#000"/>
<path d="M571.60 212.60L574.10 217.10L569.10 217.10Z" fill="#000"/>
<path d="M571.60 217.50L574.10 222.00L569.10 222.00Z" fill="#000"/>
<path d="M576.50 217.50L579.00 222.00L574.00 222.00Z" fill="#000"/>
<line x1="48.90" y1="285.80" x2="48.90" y2="382.50" stroke="#000" stroke-width="1"/>
<line x1="48.40" y1="382.50" x2="193.40" y2="382.50" stroke="#000" stroke-width="1"/>
<line x1="48.90" y1="286.25" x2="50.90" y2="286.25" stroke="#000" stroke-width="0.9"/>
<text x="47.70" y="287.00" font-size="10.1" text-anchor="end" >100,000</text>
<line x1="48.90" y1="310.00" x2="50.90" y2="310.00" stroke="#000" stroke-width="0.9"/>
<text x="46.30" y="313.00" font-size="10.1" text-anchor="end" >10,000</text>
<line x1="48.90" y1="334.00" x2="50.90" y2="334.00" stroke="#000" stroke-width="0.9"/>
<text x="46.30" y="337.00" font-size="10.1" text-anchor="end" >1000</text>
<line x1="48.90" y1="358.40" x2="50.90" y2="358.40" stroke="#000" stroke-width="0.9"/>
<text x="46.90" y="362.00" font-size="10.1" text-anchor="end" >100</text>
<line x1="48.90" y1="370.10" x2="50.90" y2="370.10" stroke="#000" stroke-width="0.9"/>
<text x="47.10" y="373.00" font-size="10.1" text-anchor="end" >&lt;35</text>
<text x="123.60" y="282.70" font-size="11.5" text-anchor="middle" >Serum IgG1</text>
<text transform="translate(15.70,328.80) rotate(-90)" font-size="11.5" text-anchor="middle">Titer</text>
<line x1="48.90" y1="302.85" x2="50.10" y2="302.85" stroke="#000" stroke-width="0.6"/>
<line x1="48.90" y1="298.60" x2="50.10" y2="298.60" stroke="#000" stroke-width="0.6"/>
<line x1="48.90" y1="295.59" x2="50.10" y2="295.59" stroke="#000" stroke-width="0.6"/>
<line x1="48.90" y1="293.25" x2="50.10" y2="293.25" stroke="#000" stroke-width="0.6"/>
<line x1="48.90" y1="291.35" x2="50.10" y2="291.35" stroke="#000" stroke-width="0.6"/>
<line x1="48.90" y1="289.73" x2="50.10" y2="289.73" stroke="#000" stroke-width="0.6"/>
<line x1="48.90" y1="288.34" x2="50.10" y2="288.34" stroke="#000" stroke-width="0.6"/>
<line x1="48.90" y1="287.10" x2="50.10" y2="287.10" stroke="#000" stroke-width="0.6"/>
<line x1="48.90" y1="326.95" x2="50.10" y2="326.95" stroke="#000" stroke-width="0.6"/>
<line x1="48.90" y1="322.70" x2="50.10" y2="322.70" stroke="#000" stroke-width="0.6"/>
<line x1="48.90" y1="319.69" x2="50.10" y2="319.69" stroke="#000" stroke-width="0.6"/>
<line x1="48.90" y1="317.35" x2="50.10" y2="317.35" stroke="#000" stroke-width="0.6"/>
<line x1="48.90" y1="315.45" x2="50.10" y2="315.45" stroke="#000" stroke-width="0.6"/>
<line x1="48.90" y1="313.83" x2="50.10" y2="313.83" stroke="#000" stroke-width="0.6"/>
<line x1="48.90" y1="312.44" x2="50.10" y2="312.44" stroke="#000" stroke-width="0.6"/>
<line x1="48.90" y1="311.20" x2="50.10" y2="311.20" stroke="#000" stroke-width="0.6"/>
<line x1="48.90" y1="351.05" x2="50.10" y2="351.05" stroke="#000" stroke-width="0.6"/>
<line x1="48.90" y1="346.80" x2="50.10" y2="346.80" stroke="#000" stroke-width="0.6"/>
<line x1="48.90" y1="343.79" x2="50.10" y2="343.79" stroke="#000" stroke-width="0.6"/>
<line x1="48.90" y1="341.45" x2="50.10" y2="341.45" stroke="#000" stroke-width="0.6"/>
<line x1="48.90" y1="339.55" x2="50.10" y2="339.55" stroke="#000" stroke-width="0.6"/>
<line x1="48.90" y1="337.93" x2="50.10" y2="337.93" stroke="#000" stroke-width="0.6"/>
<line x1="48.90" y1="336.54" x2="50.10" y2="336.54" stroke="#000" stroke-width="0.6"/>
<line x1="48.90" y1="335.30" x2="50.10" y2="335.30" stroke="#000" stroke-width="0.6"/>
<line x1="48.90" y1="375.15" x2="50.10" y2="375.15" stroke="#000" stroke-width="0.6"/>
<line x1="48.90" y1="370.90" x2="50.10" y2="370.90" stroke="#000" stroke-width="0.6"/>
<line x1="48.90" y1="367.89" x2="50.10" y2="367.89" stroke="#000" stroke-width="0.6"/>
<line x1="48.90" y1="365.55" x2="50.10" y2="365.55" stroke="#000" stroke-width="0.6"/>
<line x1="48.90" y1="363.65" x2="50.10" y2="363.65" stroke="#000" stroke-width="0.6"/>
<line x1="48.90" y1="362.03" x2="50.10" y2="362.03" stroke="#000" stroke-width="0.6"/>
<line x1="48.90" y1="360.64" x2="50.10" y2="360.64" stroke="#000" stroke-width="0.6"/>
<line x1="48.90" y1="359.40" x2="50.10" y2="359.40" stroke="#000" stroke-width="0.6"/>
<line x1="56.20" y1="369.60" x2="89.10" y2="369.60" stroke="#000" stroke-width="1"/>
<rect x="57.95" y="367.80" width="29.30" height="3.6" fill="#000"/>
<rect x="58.47" y="368.12" width="2.95" height="2.95" fill="#fff" stroke="#000" stroke-width="1.0"/>
<rect x="83.78" y="368.12" width="2.95" height="2.95" fill="#fff" stroke="#000" stroke-width="1.0"/>
<rect x="60.52" y="368.12" width="2.95" height="2.95" fill="#fff" stroke="#000" stroke-width="1.0"/>
<rect x="65.83" y="368.12" width="2.95" height="2.95" fill="#fff" stroke="#000" stroke-width="1.0"/>
<rect x="71.12" y="368.12" width="2.95" height="2.95" fill="#fff" stroke="#000" stroke-width="1.0"/>
<rect x="76.42" y="368.12" width="2.95" height="2.95" fill="#fff" stroke="#000" stroke-width="1.0"/>
<rect x="81.72" y="368.12" width="2.95" height="2.95" fill="#fff" stroke="#000" stroke-width="1.0"/>
<rect x="71.35" y="362.15" width="3.1" height="3.1" fill="#fff" stroke="#000" stroke-width="0.72"/>
<line x1="104.60" y1="315.80" x2="136.80" y2="315.80" stroke="#000" stroke-width="1"/>
<circle cx="120.70" cy="304.60" r="2.05" fill="#000"/>
<circle cx="115.70" cy="307.90" r="2.05" fill="#000"/>
<circle cx="126.00" cy="309.00" r="2.05" fill="#000"/>
<circle cx="120.70" cy="310.70" r="2.05" fill="#000"/>
<circle cx="110.80" cy="312.30" r="2.05" fill="#000"/>
<circle cx="115.70" cy="314.00" r="2.05" fill="#000"/>
<circle cx="122.70" cy="313.20" r="2.05" fill="#000"/>
<circle cx="110.80" cy="316.20" r="2.05" fill="#000"/>
<circle cx="115.70" cy="316.50" r="2.05" fill="#000"/>
<circle cx="120.70" cy="316.80" r="2.05" fill="#000"/>
<circle cx="126.00" cy="316.50" r="2.05" fill="#000"/>
<circle cx="131.00" cy="314.80" r="2.05" fill="#000"/>
<circle cx="131.00" cy="319.30" r="2.05" fill="#000"/>
<circle cx="115.70" cy="321.50" r="2.05" fill="#000"/>
<circle cx="120.70" cy="322.80" r="2.05" fill="#000"/>
<circle cx="126.00" cy="321.80" r="2.05" fill="#000"/>
<circle cx="115.70" cy="324.80" r="2.05" fill="#000"/>
<circle cx="126.00" cy="324.40" r="2.05" fill="#000"/>
<circle cx="120.70" cy="328.90" r="2.05" fill="#000"/>
<circle cx="126.00" cy="330.10" r="2.05" fill="#000"/>
<circle cx="120.70" cy="335.20" r="2.05" fill="#000"/>
<text x="121.90" y="299.70" font-size="10" text-anchor="middle" >*</text>
<line x1="153.00" y1="329.80" x2="185.00" y2="329.80" stroke="#000" stroke-width="1"/>
<path d="M174.10 317.80L176.60 322.30L171.60 322.30Z" fill="#000"/>
<path d="M164.10 321.00L166.60 325.50L161.60 325.50Z" fill="#000"/>
<path d="M168.80 322.80L171.30 327.30L166.30 327.30Z" fill="#000"/>
<path d="M159.20 325.90L161.70 330.40L156.70 330.40Z" fill="#000"/>
<path d="M164.10 325.90L166.60 330.40L161.60 330.40Z" fill="#000"/>
<path d="M168.80 325.90L171.30 330.40L166.30 330.40Z" fill="#000"/>
<path d="M176.60 325.90L179.10 330.40L174.10 330.40Z" fill="#000"/>
<path d="M181.60 325.60L184.10 330.10L179.10 330.10Z" fill="#000"/>
<path d="M159.20 330.60L161.70 335.10L156.70 335.10Z" fill="#000"/>
<path d="M164.10 329.70L166.60 334.20L161.60 334.20Z" fill="#000"/>
<path d="M168.80 329.70L171.30 334.20L166.30 334.20Z" fill="#000"/>
<path d="M174.10 330.60L176.60 335.10L171.60 335.10Z" fill="#000"/>
<path d="M179.10 330.20L181.60 334.70L176.60 334.70Z" fill="#000"/>
<path d="M164.10 333.90L166.60 338.40L161.60 338.40Z" fill="#000"/>
<path d="M168.80 335.20L171.30 339.70L166.30 339.70Z" fill="#000"/>
<path d="M164.10 337.20L166.60 341.70L161.60 341.70Z" fill="#000"/>
<path d="M174.10 338.40L176.60 342.90L171.60 342.90Z" fill="#000"/>
<path d="M168.80 342.20L171.30 346.70L166.30 346.70Z" fill="#000"/>
<text x="169.30" y="310.80" font-size="10" text-anchor="middle" >*</text>
<line x1="268.80" y1="285.80" x2="268.80" y2="382.50" stroke="#000" stroke-width="1"/>
<line x1="268.30" y1="382.50" x2="413.50" y2="382.50" stroke="#000" stroke-width="1"/>
<line x1="268.80" y1="286.25" x2="270.80" y2="286.25" stroke="#000" stroke-width="0.9"/>
<text x="266.50" y="288.00" font-size="10.1" text-anchor="end" >100,000</text>
<line x1="268.80" y1="310.10" x2="270.80" y2="310.10" stroke="#000" stroke-width="0.9"/>
<text x="265.80" y="313.00" font-size="10.1" text-anchor="end" >10,000</text>
<line x1="268.80" y1="334.30" x2="270.80" y2="334.30" stroke="#000" stroke-width="0.9"/>
<text x="265.80" y="338.00" font-size="10.1" text-anchor="end" >1000</text>
<line x1="268.80" y1="358.40" x2="270.80" y2="358.40" stroke="#000" stroke-width="0.9"/>
<text x="266.30" y="362.00" font-size="10.1" text-anchor="end" >100</text>
<line x1="268.80" y1="369.80" x2="270.80" y2="369.80" stroke="#000" stroke-width="0.9"/>
<text x="266.70" y="373.00" font-size="10.1" text-anchor="end" >&lt;35</text>
<text x="342.50" y="281.80" font-size="11.7" text-anchor="middle" >Serum IgG2a</text>
<text transform="translate(234.50,328.50) rotate(-90)" font-size="11.5" text-anchor="middle">Titer</text>
<line x1="268.80" y1="302.92" x2="270.00" y2="302.92" stroke="#000" stroke-width="0.6"/>
<line x1="268.80" y1="298.65" x2="270.00" y2="298.65" stroke="#000" stroke-width="0.6"/>
<line x1="268.80" y1="295.63" x2="270.00" y2="295.63" stroke="#000" stroke-width="0.6"/>
<line x1="268.80" y1="293.28" x2="270.00" y2="293.28" stroke="#000" stroke-width="0.6"/>
<line x1="268.80" y1="291.37" x2="270.00" y2="291.37" stroke="#000" stroke-width="0.6"/>
<line x1="268.80" y1="289.75" x2="270.00" y2="289.75" stroke="#000" stroke-width="0.6"/>
<line x1="268.80" y1="288.35" x2="270.00" y2="288.35" stroke="#000" stroke-width="0.6"/>
<line x1="268.80" y1="287.11" x2="270.00" y2="287.11" stroke="#000" stroke-width="0.6"/>
<line x1="268.80" y1="327.12" x2="270.00" y2="327.12" stroke="#000" stroke-width="0.6"/>
<line x1="268.80" y1="322.85" x2="270.00" y2="322.85" stroke="#000" stroke-width="0.6"/>
<line x1="268.80" y1="319.83" x2="270.00" y2="319.83" stroke="#000" stroke-width="0.6"/>
<line x1="268.80" y1="317.48" x2="270.00" y2="317.48" stroke="#000" stroke-width="0.6"/>
<line x1="268.80" y1="315.57" x2="270.00" y2="315.57" stroke="#000" stroke-width="0.6"/>
<line x1="268.80" y1="313.95" x2="270.00" y2="313.95" stroke="#000" stroke-width="0.6"/>
<line x1="268.80" y1="312.55" x2="270.00" y2="312.55" stroke="#000" stroke-width="0.6"/>
<line x1="268.80" y1="311.31" x2="270.00" y2="311.31" stroke="#000" stroke-width="0.6"/>
<line x1="268.80" y1="351.32" x2="270.00" y2="351.32" stroke="#000" stroke-width="0.6"/>
<line x1="268.80" y1="347.05" x2="270.00" y2="347.05" stroke="#000" stroke-width="0.6"/>
<line x1="268.80" y1="344.03" x2="270.00" y2="344.03" stroke="#000" stroke-width="0.6"/>
<line x1="268.80" y1="341.68" x2="270.00" y2="341.68" stroke="#000" stroke-width="0.6"/>
<line x1="268.80" y1="339.77" x2="270.00" y2="339.77" stroke="#000" stroke-width="0.6"/>
<line x1="268.80" y1="338.15" x2="270.00" y2="338.15" stroke="#000" stroke-width="0.6"/>
<line x1="268.80" y1="336.75" x2="270.00" y2="336.75" stroke="#000" stroke-width="0.6"/>
<line x1="268.80" y1="335.51" x2="270.00" y2="335.51" stroke="#000" stroke-width="0.6"/>
<line x1="268.80" y1="375.52" x2="270.00" y2="375.52" stroke="#000" stroke-width="0.6"/>
<line x1="268.80" y1="371.25" x2="270.00" y2="371.25" stroke="#000" stroke-width="0.6"/>
<line x1="268.80" y1="368.23" x2="270.00" y2="368.23" stroke="#000" stroke-width="0.6"/>
<line x1="268.80" y1="365.88" x2="270.00" y2="365.88" stroke="#000" stroke-width="0.6"/>
<line x1="268.80" y1="363.97" x2="270.00" y2="363.97" stroke="#000" stroke-width="0.6"/>
<line x1="268.80" y1="362.35" x2="270.00" y2="362.35" stroke="#000" stroke-width="0.6"/>
<line x1="268.80" y1="360.95" x2="270.00" y2="360.95" stroke="#000" stroke-width="0.6"/>
<line x1="268.80" y1="359.71" x2="270.00" y2="359.71" stroke="#000" stroke-width="0.6"/>
<line x1="276.20" y1="369.60" x2="309.10" y2="369.60" stroke="#000" stroke-width="1"/>
<rect x="277.95" y="367.80" width="29.30" height="3.6" fill="#000"/>
<rect x="278.48" y="368.12" width="2.95" height="2.95" fill="#fff" stroke="#000" stroke-width="1.0"/>
<rect x="303.77" y="368.12" width="2.95" height="2.95" fill="#fff" stroke="#000" stroke-width="1.0"/>
<rect x="280.52" y="368.12" width="2.95" height="2.95" fill="#fff" stroke="#000" stroke-width="1.0"/>
<rect x="285.82" y="368.12" width="2.95" height="2.95" fill="#fff" stroke="#000" stroke-width="1.0"/>
<rect x="291.12" y="368.12" width="2.95" height="2.95" fill="#fff" stroke="#000" stroke-width="1.0"/>
<rect x="296.43" y="368.12" width="2.95" height="2.95" fill="#fff" stroke="#000" stroke-width="1.0"/>
<rect x="301.73" y="368.12" width="2.95" height="2.95" fill="#fff" stroke="#000" stroke-width="1.0"/>
<line x1="324.70" y1="317.80" x2="356.90" y2="317.80" stroke="#000" stroke-width="1"/>
<circle cx="340.80" cy="304.60" r="2.05" fill="#000"/>
<circle cx="345.80" cy="307.00" r="2.05" fill="#000"/>
<circle cx="340.80" cy="312.10" r="2.05" fill="#000"/>
<circle cx="333.30" cy="315.30" r="2.05" fill="#000"/>
<circle cx="353.80" cy="315.40" r="2.05" fill="#000"/>
<circle cx="338.30" cy="316.60" r="2.05" fill="#000"/>
<circle cx="330.50" cy="319.90" r="2.05" fill="#000"/>
<circle cx="335.80" cy="319.90" r="2.05" fill="#000"/>
<circle cx="340.80" cy="320.30" r="2.05" fill="#000"/>
<circle cx="343.30" cy="319.90" r="2.05" fill="#000"/>
<circle cx="346.10" cy="319.60" r="2.05" fill="#000"/>
<circle cx="350.80" cy="319.60" r="2.05" fill="#000"/>
<circle cx="330.50" cy="325.80" r="2.05" fill="#000"/>
<circle cx="335.80" cy="326.90" r="2.05" fill="#000"/>
<circle cx="343.30" cy="325.80" r="2.05" fill="#000"/>
<circle cx="350.80" cy="326.30" r="2.05" fill="#000"/>
<circle cx="340.80" cy="329.90" r="2.05" fill="#000"/>
<circle cx="346.10" cy="328.60" r="2.05" fill="#000"/>
<text x="343.60" y="297.60" font-size="10" text-anchor="middle" >*</text>
<line x1="372.70" y1="312.50" x2="405.30" y2="312.50" stroke="#000" stroke-width="1"/>
<path d="M389.00 299.10L391.50 303.60L386.50 303.60Z" fill="#000"/>
<path d="M391.50 301.60L394.00 306.10L389.00 306.10Z" fill="#000"/>
<path d="M378.70 303.60L381.20 308.10L376.20 308.10Z" fill="#000"/>
<path d="M383.70 304.50L386.20 309.00L381.20 309.00Z" fill="#000"/>
<path d="M394.40 304.50L396.90 309.00L391.90 309.00Z" fill="#000"/>
<path d="M399.40 303.30L401.90 307.80L396.90 307.80Z" fill="#000"/>
<path d="M383.70 307.10L386.20 311.60L381.20 311.60Z" fill="#000"/>
<path d="M389.00 306.60L391.50 311.10L386.50 311.10Z" fill="#000"/>
<path d="M378.70 312.80L381.20 317.30L376.20 317.30Z" fill="#000"/>
<path d="M383.70 314.40L386.20 318.90L381.20 318.90Z" fill="#000"/>
<path d="M389.00 312.10L391.50 316.60L386.50 316.60Z" fill="#000"/>
<path d="M391.50 312.90L394.00 317.40L389.00 317.40Z" fill="#000"/>
<path d="M399.40 314.10L401.90 318.60L396.90 318.60Z" fill="#000"/>
<path d="M389.00 317.40L391.50 321.90L386.50 321.90Z" fill="#000"/>
<path d="M394.40 316.90L396.90 321.40L391.90 321.40Z" fill="#000"/>
<path d="M383.70 322.40L386.20 326.90L381.20 326.90Z" fill="#000"/>
<path d="M389.00 322.40L391.50 326.90L386.50 326.90Z" fill="#000"/>
<path d="M383.70 326.60L386.20 331.10L381.20 331.10Z" fill="#000"/>
<path d="M399.40 326.10L401.90 330.60L396.90 330.60Z" fill="#000"/>
<path d="M389.00 330.40L391.50 334.90L386.50 334.90Z" fill="#000"/>
<path d="M394.40 328.80L396.90 333.30L391.90 333.30Z" fill="#000"/>
<text x="389.50" y="297.60" font-size="10" text-anchor="middle" >*</text>
<line x1="451.20" y1="285.20" x2="451.20" y2="383.00" stroke="#000" stroke-width="1"/>
<line x1="450.70" y1="383.00" x2="595.80" y2="383.00" stroke="#000" stroke-width="1"/>
<line x1="451.20" y1="287.50" x2="453.20" y2="287.50" stroke="#000" stroke-width="0.9"/>
<text x="449.30" y="291.00" font-size="10.1" text-anchor="end" >100</text>
<line x1="451.20" y1="335.00" x2="453.20" y2="335.00" stroke="#000" stroke-width="0.9"/>
<text x="449.30" y="338.00" font-size="10.1" text-anchor="end" >10</text>
<line x1="451.20" y1="383.00" x2="453.20" y2="383.00" stroke="#000" stroke-width="0.9"/>
<text x="449.30" y="386.00" font-size="10.1" text-anchor="end" >&lt;1</text>
<text x="525.20" y="283.50" font-size="11.7" text-anchor="middle" >BALF IgG2a</text>
<text transform="translate(432.30,331.00) rotate(-90)" font-size="11.5" text-anchor="middle">Titer</text>
<line x1="451.20" y1="320.77" x2="452.40" y2="320.77" stroke="#000" stroke-width="0.6"/>
<line x1="451.20" y1="312.39" x2="452.40" y2="312.39" stroke="#000" stroke-width="0.6"/>
<line x1="451.20" y1="306.44" x2="452.40" y2="306.44" stroke="#000" stroke-width="0.6"/>
<line x1="451.20" y1="301.83" x2="452.40" y2="301.83" stroke="#000" stroke-width="0.6"/>
<line x1="451.20" y1="298.06" x2="452.40" y2="298.06" stroke="#000" stroke-width="0.6"/>
<line x1="451.20" y1="294.87" x2="452.40" y2="294.87" stroke="#000" stroke-width="0.6"/>
<line x1="451.20" y1="292.11" x2="452.40" y2="292.11" stroke="#000" stroke-width="0.6"/>
<line x1="451.20" y1="289.68" x2="452.40" y2="289.68" stroke="#000" stroke-width="0.6"/>
<line x1="451.20" y1="368.37" x2="452.40" y2="368.37" stroke="#000" stroke-width="0.6"/>
<line x1="451.20" y1="359.99" x2="452.40" y2="359.99" stroke="#000" stroke-width="0.6"/>
<line x1="451.20" y1="354.04" x2="452.40" y2="354.04" stroke="#000" stroke-width="0.6"/>
<line x1="451.20" y1="349.43" x2="452.40" y2="349.43" stroke="#000" stroke-width="0.6"/>
<line x1="451.20" y1="345.66" x2="452.40" y2="345.66" stroke="#000" stroke-width="0.6"/>
<line x1="451.20" y1="342.47" x2="452.40" y2="342.47" stroke="#000" stroke-width="0.6"/>
<line x1="451.20" y1="339.71" x2="452.40" y2="339.71" stroke="#000" stroke-width="0.6"/>
<line x1="451.20" y1="337.28" x2="452.40" y2="337.28" stroke="#000" stroke-width="0.6"/>
<line x1="458.90" y1="333.30" x2="491.20" y2="333.30" stroke="#000" stroke-width="1"/>
<rect x="473.45" y="323.35" width="3.1" height="3.1" fill="#fff" stroke="#000" stroke-width="0.72"/>
<rect x="467.95" y="329.15" width="3.1" height="3.1" fill="#fff" stroke="#000" stroke-width="0.72"/>
<rect x="473.45" y="333.05" width="3.1" height="3.1" fill="#fff" stroke="#000" stroke-width="0.72"/>
<rect x="473.45" y="347.65" width="3.1" height="3.1" fill="#fff" stroke="#000" stroke-width="0.72"/>
<line x1="506.80" y1="338.70" x2="539.20" y2="338.70" stroke="#6c6c6c" stroke-width="1.7"/>
<circle cx="517.80" cy="336.90" r="2.05" fill="#000"/>
<circle cx="527.80" cy="335.00" r="2.05" fill="#000"/>
<circle cx="523.00" cy="340.10" r="2.05" fill="#000"/>
<circle cx="523.00" cy="345.00" r="2.05" fill="#000"/>
<line x1="554.40" y1="335.90" x2="587.40" y2="335.90" stroke="#6c6c6c" stroke-width="1.7"/>
<path d="M571.20 326.60L573.70 331.10L568.70 331.10Z" fill="#000"/>
<path d="M565.70 332.10L568.20 336.60L563.20 336.60Z" fill="#000"/>
<path d="M571.20 335.40L573.70 339.90L568.70 339.90Z" fill="#000"/>
<path d="M571.20 343.50L573.70 348.00L568.70 348.00Z" fill="#000"/>
</g>
</svg>
</body></html>
